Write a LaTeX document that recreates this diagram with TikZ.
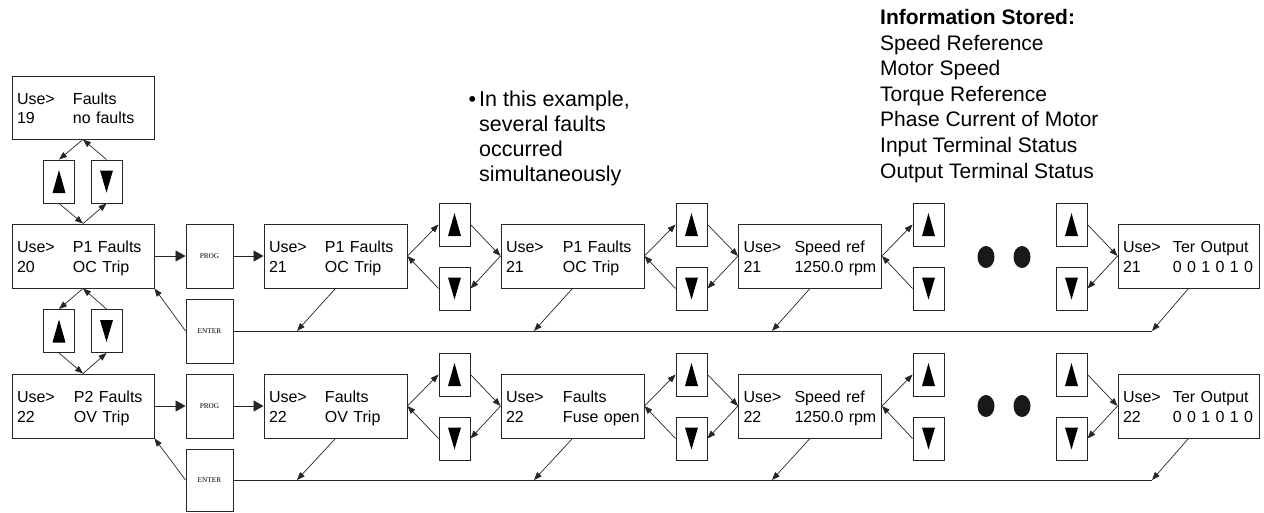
\documentclass[tikz,border=0pt]{standalone}
\usepackage{fontspec}
\setmainfont{Liberation Sans}
\newfontfamily\keylabelfont{Liberation Serif}
\usetikzlibrary{arrows.meta,calc}
\newcommand\lcdtxt[5][56pt]{\rule{0pt}{17pt}\makebox[#1][l]{#2}\mbox{#3}\\\makebox[#1][l]{#4}\mbox{#5}\rule[-4pt]{0pt}{4pt}}
\begin{document}
\begin{tikzpicture}[x=1pt,y=-1pt,
  lc/.style={draw=black!85, line width=0.9pt},
  disp/.style={lc, minimum height=64pt, text width=133pt, inner xsep=5pt, inner ysep=0pt,
    align=left, font=\fontsize{16}{19.5}\selectfont},
  keybox/.style={lc, minimum width=31pt, minimum height=43pt, inner sep=0pt},
  upkey/.style={keybox, path picture={\fill ([shift={(-6.5pt,-11.5pt)}]path picture bounding box.center) -- ++(13pt,0pt) -- ++(-6.5pt,23pt) -- cycle;}},
  downkey/.style={keybox, path picture={\fill ([shift={(-6.5pt,11pt)}]path picture bounding box.center) -- ++(13pt,0pt) -- ++(-6.5pt,-22pt) -- cycle;}},
  btn/.style={lc, minimum width=47pt, minimum height=64pt, inner sep=0pt, font=\keylabelfont\fontsize{7.3}{8}\selectfont},
  arr/.style={draw=black!85, line width=0.7pt, -{Triangle[length=8pt,width=6pt]}},
  bigarr/.style={draw=black!85, line width=0.8pt, -{Triangle[length=10pt,width=11pt]}},
  note/.style={inner sep=0pt, anchor=north west, align=left}
]
\useasboundingbox (0,0) rectangle (1264,512);

% ---------- left column ----------
\node[disp, minimum height=63pt, text width=132pt] (F0) at (83,107.5) {\lcdtxt{Use>}{Faults}{19}{no faults}};
\node[disp, text width=132pt] (F1) at (83,256) {\lcdtxt{Use>}{P1 Faults}{20}{OC Trip}};
\node[disp, text width=132pt] (F2) at (83,406) {\lcdtxt[57pt]{Use>}{P2 Faults}{22}{OV Trip}};

\node[upkey] (LU1) at (59,181.5) {};
\node[downkey] (LD1) at (106.5,181.5) {};
\node[upkey] (LU2) at (59,331) {};
\node[downkey] (LD2) at (106.5,331) {};

\node[btn] (P1) at (209.5,256) {PROG};
\node[btn] (E1) at (209.5,331) {ENTER};
\node[btn] (P2) at (209.5,406) {PROG};
\node[btn, minimum height=62pt] (E2) at (209.5,480) {ENTER};

% ---------- row 1 ----------
\node[disp] (A1) at (335.5,256) {\lcdtxt{Use>}{P1 Faults}{21}{OC Trip}};
\node[disp] (A2) at (572.5,256) {\lcdtxt[57pt]{Use>}{P1 Faults}{21}{OC Trip}};
\node[disp] (A3) at (810,256) {\lcdtxt[51pt]{Use>}{Speed ref}{21}{1250.0 rpm}};
\node[disp, text width=131pt] (A4) at (1188.5,256) {\lcdtxt[50pt]{Use>}{Ter Output}{21}{0 0 1 0 1 0}};

\node[upkey] (U11) at (454.5,224.5) {};
\node[downkey] (D11) at (454.5,288.5) {};
\node[upkey] (U12) at (691.5,224.5) {};
\node[downkey] (D12) at (691.5,288.5) {};
\node[upkey] (U13) at (928.5,224.5) {};
\node[downkey] (D13) at (928.5,288.5) {};
\node[upkey] (U14) at (1071.5,224.5) {};
\node[downkey] (D14) at (1071.5,288.5) {};

% ---------- row 2 ----------
\node[disp] (B1) at (335.5,406) {\lcdtxt{Use>}{Faults}{22}{OV Trip}};
\node[disp] (B2) at (572.5,406) {\lcdtxt[57pt]{Use>}{Faults}{22}{Fuse open}};
\node[disp] (B3) at (810,406) {\lcdtxt[51pt]{Use>}{Speed ref}{22}{1250.0 rpm}};
\node[disp, text width=131pt] (B4) at (1188.5,406) {\lcdtxt[50pt]{Use>}{Ter Output}{22}{0 0 1 0 1 0}};

\node[upkey] (U21) at (454.5,374.5) {};
\node[downkey] (D21) at (454.5,438.5) {};
\node[upkey] (U22) at (691.5,374.5) {};
\node[downkey] (D22) at (691.5,438.5) {};
\node[upkey] (U23) at (928.5,374.5) {};
\node[downkey] (D23) at (928.5,438.5) {};
\node[upkey] (U24) at (1071.5,374.5) {};
\node[downkey] (D24) at (1071.5,438.5) {};

% ---------- dots ----------
\fill[black!90] (986,257) ellipse [x radius=8.5pt, y radius=11pt];
\fill[black!90] (1022,257) ellipse [x radius=8.5pt, y radius=11pt];
\fill[black!90] (986,406) ellipse [x radius=8.5pt, y radius=11pt];
\fill[black!90] (1022,406) ellipse [x radius=8.5pt, y radius=11pt];

% ---------- annotations ----------
\node[note, font=\fontsize{21.5}{24.8}\selectfont] (bul) at (479,91) {\llap{\textbullet\hspace{3pt}}In this example,\\several faults\\occurred\\simultaneously};
\node[note, font=\fontsize{21}{25.6}\selectfont] (info) at (880,9) {\textbf{Information Stored:}\\Speed Reference\\Motor Speed\\Torque Reference\\Phase Current of Motor\\Input Terminal Status\\Output Terminal Status};

% ---------- left column connectors ----------
\draw[arr] (F0.south) -- (LU1.north);
\draw[arr] (LD1.north) -- (F0.south);
\draw[arr] (LU1.south) -- (F1.north);
\draw[arr] (F1.north) -- (LD1.south);
\draw[arr] (F1.south) -- (LU2.north);
\draw[arr] (LD2.north) -- (F1.south);
\draw[arr] (LU2.south) -- (F2.north);
\draw[arr] (F2.north) -- (LD2.south);

\draw[bigarr] (F1.east) -- (P1.west);
\draw[bigarr] (P1.east) -- (A1.west);
\draw[bigarr] (F2.east) -- (P2.west);
\draw[bigarr] (P2.east) -- (B1.west);
\draw[arr] (E1.west) -- (F1.south east);
\draw[arr] (E2.west) -- (F2.south east);

% ---------- row connectors ----------
\foreach \r/\X/\Y/\Z/\W in {1/A1/A2/A3/A4, 2/B1/B2/B3/B4}{
  \draw[arr] (\X.east) -- (U\r1.west);
  \draw[arr] (D\r1.west) -- (\X.east);
  \draw[arr] (U\r1.east) -- (\Y.west);
  \draw[arr] (\Y.west) -- (D\r1.east);
  \draw[arr] (\Y.east) -- (U\r2.west);
  \draw[arr] (D\r2.west) -- (\Y.east);
  \draw[arr] (U\r2.east) -- (\Z.west);
  \draw[arr] (\Z.west) -- (D\r2.east);
  \draw[arr] (\Z.east) -- (U\r3.west);
  \draw[arr] (D\r3.west) -- (\Z.east);
  \draw[arr] (U\r4.east) -- (\W.west);
  \draw[arr] (\W.west) -- (D\r4.east);
}

% ---------- enter lines ----------
\coordinate (t11) at (297,331);
\coordinate (t12) at (534,331);
\coordinate (t13) at (772,331);
\coordinate (t14) at (1152,331);
\coordinate (t21) at (297,480);
\coordinate (t22) at (534,480);
\coordinate (t23) at (772,480);
\coordinate (t24) at (1152,480);
\draw[lc, line width=0.8pt] (E1.east) -- (t14);
\draw[lc, line width=0.8pt] (E2.east) -- (t24);
\draw[arr] (A1.south) -- (t11);
\draw[arr] (A2.south) -- (t12);
\draw[arr] (A3.south) -- (t13);
\draw[arr] (A4.south) -- (t14);
\draw[arr] (B1.south) -- (t21);
\draw[arr] (B2.south) -- (t22);
\draw[arr] (B3.south) -- (t23);
\draw[arr] (B4.south) -- (t24);
\end{tikzpicture}
\end{document}
